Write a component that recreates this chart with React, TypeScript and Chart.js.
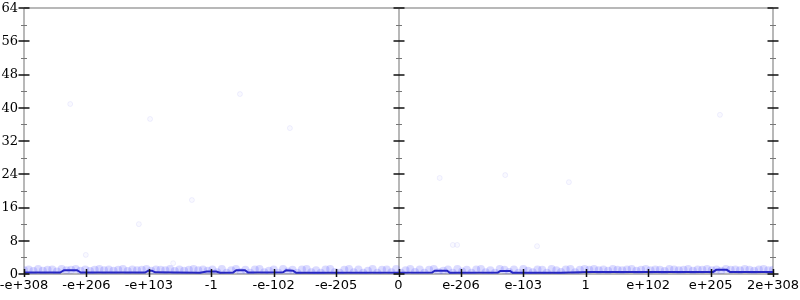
import { useEffect, useRef } from "react";
import { Chart, registerables } from "chart.js";
Chart.register(...registerables);

const xTickLabels = ["-e+308", "-e+206", "-e+103", "-1", "-e-102", "-e-205", "0", "e-206", "e-103", "1", "e+102", "e+205", "2e+308"];
const yMajorTicks = [0, 8, 16, 24, 32, 40, 48, 56, 64];
const yMinorTicks = [4, 12, 20, 28, 36, 44, 52, 60];

const outlierX = [0.74, 2.02, 3.46, 4.26, 1.84, 2.69, 0.99, 2.39, 6.66, 6.87, 6.94, 7.71, 8.22, 8.73, 11.15];
const outlierY = [40.9, 37.3, 43.3, 35.1, 12.0, 17.8, 4.6, 2.6, 23.1, 7.0, 7.0, 23.8, 6.7, 22.1, 38.3];

const bandY = [
  0.9, 1.1, 0.7, 1.2, 0.8, 1.0, 1.1, 0.6, 1.2, 0.9, 1.0, 1.2, 0.8, 1.1, 0.7, 1.0, 1.2, 0.9, 1.1, 0.8,
  1.0, 1.2, 0.7, 1.1, 0.9, 1.0, 1.2, 0.8, 1.1, 1.0, 0.9, 1.2, 0.7, 1.1, 0.8, 1.0, 1.2, 0.9, 1.1, 0.8,
  1.1, 0.4, 1.2, 0.3, 0.9, 1.2, 0.5, 1.0, 0.3, 1.1, 1.2, 0.4, 0.8, 1.1, 0.3, 1.2, 0.6, 1.0, 0.3, 1.1,
  1.2, 0.4, 0.9, 0.3, 1.1, 1.2, 0.5, 0.3, 1.0, 1.2, 0.4, 1.1, 0.3, 0.8, 1.2, 0.3, 1.0, 1.1, 0.4, 1.2,
  0.3, 0.9, 1.2, 0.5, 1.1, 0.3, 1.0, 1.2, 0.4, 0.8, 1.1, 0.3, 1.2, 0.6, 1.0, 0.3, 1.1, 1.2, 0.4, 0.9,
  0.3, 1.2, 1.0, 0.5, 1.1, 0.3, 1.2, 0.8, 0.4, 1.1, 1.0, 0.3, 1.2, 0.9, 0.5, 1.1, 1.2, 0.4, 1.0, 1.2,
  1.0, 1.2, 0.9, 1.1, 0.8, 1.2, 1.0, 0.9, 1.1, 1.2, 0.8, 1.0, 1.2, 0.9, 1.1, 1.0, 0.7, 1.2, 1.1, 0.9,
  1.0, 1.2, 0.8, 1.1, 1.0, 1.2, 0.9, 1.1, 0.8, 1.2, 1.0, 1.1, 0.9, 1.2, 1.0, 0.8, 1.1, 1.2, 0.9, 1.0,
];

const lineX = [0, 0.58, 0.64, 0.85, 0.91, 1.94, 1.99, 2.05, 2.1, 2.82, 2.93, 3.08, 3.14, 3.35, 3.4, 3.54, 3.59, 4.15, 4.2, 4.31, 4.36, 6.54, 6.58, 6.78, 6.82, 7.59, 7.63, 7.79, 7.83, 8.59, 9.07, 11.04, 11.09, 11.26, 11.31, 12];
const lineY = [0.35, 0.35, 0.9, 0.9, 0.35, 0.35, 0.8, 0.8, 0.4, 0.3, 0.6, 0.6, 0.3, 0.35, 0.9, 0.9, 0.35, 0.4, 0.9, 0.8, 0.3, 0.35, 0.8, 0.8, 0.3, 0.35, 0.7, 0.7, 0.3, 0.3, 0.5, 0.5, 1.0, 1.0, 0.5, 0.5];

const axisPlugin = {
  id: "gnuAxes",
  beforeDatasetsDraw(chart: any) {
    const { ctx, chartArea: a } = chart;
    ctx.save();
    ctx.strokeStyle = "#b8b8b8";
    ctx.lineWidth = 2;
    const xs = chart.scales.x;
    const verticals = [0, 6, 12].map((v) => Math.round(xs.getPixelForValue(v)));
    ctx.beginPath();
    for (const px of verticals) {
      ctx.moveTo(px, a.top);
      ctx.lineTo(px, a.bottom);
    }
    ctx.moveTo(a.left, a.top);
    ctx.lineTo(a.right, a.top);
    ctx.moveTo(a.left, a.bottom);
    ctx.lineTo(a.right, a.bottom);
    ctx.stroke();
    ctx.restore();
  },
  afterDatasetsDraw(chart: any) {
    const { ctx, chartArea: a } = chart;
    const xs = chart.scales.x;
    const ys = chart.scales.y;
    ctx.save();
    const verticals = [0, 6, 12].map((v) => Math.round(xs.getPixelForValue(v)));
    ctx.strokeStyle = "#777";
    ctx.lineWidth = 1;
    ctx.beginPath();
    for (const px of verticals) {
      for (const t of yMinorTicks) {
        const py = Math.round(ys.getPixelForValue(t)) + 0.5;
        ctx.moveTo(px - 3, py);
        ctx.lineTo(px + 3, py);
      }
    }
    ctx.stroke();
    ctx.strokeStyle = "#111";
    ctx.lineWidth = 1.5;
    ctx.beginPath();
    for (const px of verticals) {
      for (const t of yMajorTicks) {
        const py = Math.round(ys.getPixelForValue(t));
        ctx.moveTo(px - 5.5, py);
        ctx.lineTo(px + 5.5, py);
      }
    }
    xTickLabels.forEach((_, i) => {
      const px = Math.round(xs.getPixelForValue(i)) + 0.5;
      ctx.moveTo(px, a.bottom - 5);
      ctx.lineTo(px, a.bottom + 3);
    });
    ctx.stroke();
    ctx.fillStyle = "#000";
    ctx.font = "13px 'DejaVu Serif'";
    ctx.textAlign = "right";
    ctx.textBaseline = "middle";
    for (const t of yMajorTicks) {
      ctx.fillText(String(t), a.left - 6, ys.getPixelForValue(t) + 0.5);
    }
    ctx.font = "13px 'DejaVu Sans'";
    ctx.textAlign = "center";
    ctx.textBaseline = "top";
    xTickLabels.forEach((lab, i) => {
      ctx.fillText(lab, xs.getPixelForValue(i), a.bottom + 5);
    });
    ctx.restore();
  },
};

export default function App() {
  const ref = useRef<HTMLCanvasElement | null>(null);
  useEffect(() => {
    document.body.style.margin = "0";
    const bandPoints = bandY.map((y, i) => ({ x: (i * 12) / (bandY.length - 1), y }));
    const outliers = outlierX.map((x, i) => ({ x, y: outlierY[i] }));
    const linePts = lineX.map((x, i) => ({ x, y: lineY[i] }));
    const chart = new Chart(ref.current as HTMLCanvasElement, {
      type: "scatter",
      data: {
        datasets: [
          {
            label: "band",
            data: bandPoints,
            pointRadius: 4,
            pointBorderWidth: 0,
            borderWidth: 0,
            backgroundColor: "rgba(40,40,255,0.17)",
            borderColor: "rgba(0,0,0,0)",
          },
          {
            label: "outliers",
            data: outliers,
            pointRadius: 2.5,
            pointBorderWidth: 1,
            backgroundColor: "rgba(60,60,255,0.03)",
            borderColor: "rgba(60,60,230,0.07)",
          },
          {
            type: "line" as any,
            label: "line",
            data: linePts,
            showLine: true,
            pointRadius: 0,
            borderWidth: 2,
            borderColor: "#2727b0",
            fill: false,
            tension: 0,
          } as any,
        ],
      },
      options: {
        animation: false,
        responsive: false,
        layout: { padding: { left: 24, right: 27, top: 8, bottom: 26 } },
        plugins: { legend: { display: false }, tooltip: { enabled: false } },
        scales: {
          x: { type: "linear", min: 0, max: 12, display: false },
          y: { type: "linear", min: 0, max: 64, display: false },
        },
      },
      plugins: [axisPlugin],
    });
    return () => chart.destroy();
  }, []);
  return (
    <div style={{ position: "fixed", left: 0, top: 0, width: 800, height: 300, background: "#fff" }}>
      <canvas ref={ref} width={800} height={300} style={{ width: 800, height: 300 }} />
    </div>
  );
}
